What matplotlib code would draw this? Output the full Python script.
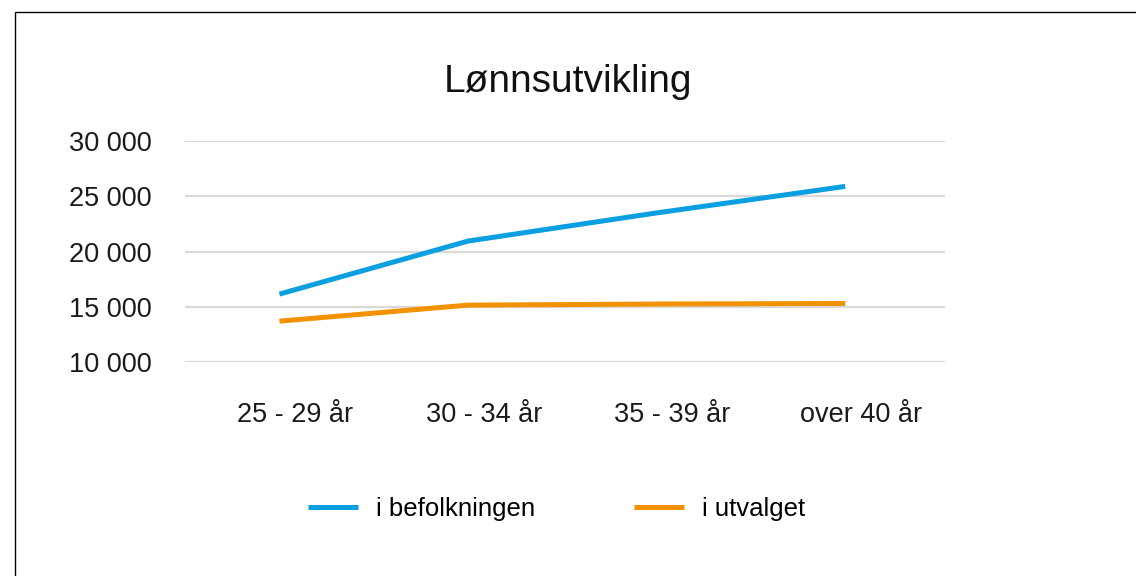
import matplotlib
matplotlib.use("Agg")
import matplotlib.pyplot as plt
import matplotlib.transforms as mtransforms
from matplotlib.patches import Rectangle
from matplotlib.ticker import FuncFormatter

categories = ["25 - 29 år", "30 - 34 år", "35 - 39 år", "over 40 år"]
befolkningen = [16150, 20950, 23500, 25900]
utvalget = [13700, 15150, 15250, 15300]
title = "Lønnsutvikling"

plt.rcParams["font.family"] = ["Liberation Sans", "DejaVu Sans"]

fig = plt.figure(figsize=(11.36, 5.76), dpi=100)
ax = fig.add_axes([0.163, 0.3715, 0.669, 0.3835])

x = range(len(categories))
ax.plot(x, befolkningen, color="#0a9fe0", lw=3.6, label="i befolkningen", solid_capstyle="butt")
ax.plot(x, utvalget, color="#f39200", lw=3.6, label="i utvalget", solid_capstyle="butt")

ax.set_xlim(-0.5, 3.53)
ax.set_ylim(10000, 30000)
ax.set_yticks([10000, 15000, 20000, 25000, 30000])
ax.yaxis.set_major_formatter(FuncFormatter(lambda v, p: f"{int(v):,}".replace(",", " ")))
ax.set_xticks(list(x))
ax.set_xticklabels(categories)

ax.grid(axis="y", color="#d9d9d9", lw=1.6)
ax.set_axisbelow(True)
for s in ax.spines.values():
    s.set_visible(False)
ax.tick_params(axis="both", length=0, labelsize=19.5, colors="#1a1a1a")
ax.tick_params(axis="y", pad=24)
ax.tick_params(axis="x", pad=29)

# labels sit a bit right of their points in the original
offset = mtransforms.ScaledTranslation(16 / 100, 0, fig.dpi_scale_trans)
for lbl in ax.get_xticklabels():
    lbl.set_transform(lbl.get_transform() + offset)

fig.text(0.5, 0.857, title, ha="center", va="center", fontsize=28, color="#111111")

fig.legend(loc="center", bbox_to_anchor=(0.49, 0.117), ncol=2, frameon=False,
           fontsize=18.5, handlelength=1.95, handletextpad=0.7, columnspacing=3.85)

# frame around the chart, cut by the right and bottom edges
fig.patches.append(Rectangle((15 / 1136, -0.1), 1.2, 1 - 12 / 576 + 0.1,
                             transform=fig.transFigure, fill=False, ec="black", lw=1.0))

fig.savefig("out.png", dpi=100)
